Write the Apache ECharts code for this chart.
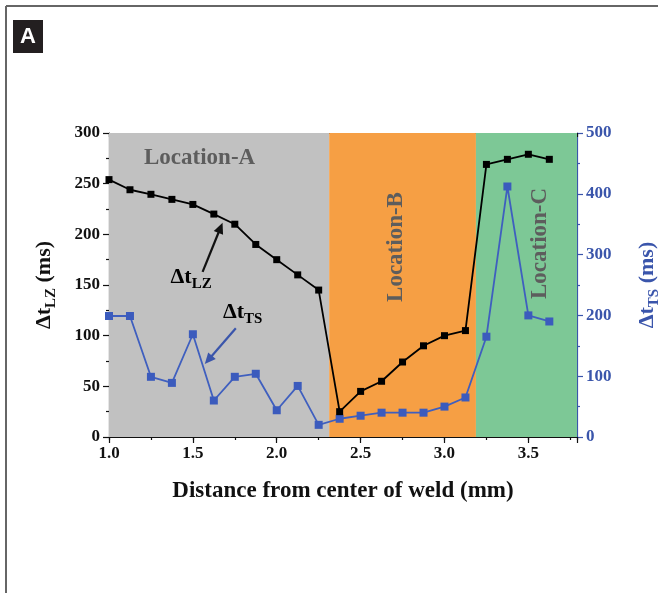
<!DOCTYPE html>
<html><head><meta charset="utf-8">
<script src="https://cdn.jsdelivr.net/npm/echarts@6/dist/echarts.min.js"></script>
<style>html,body{margin:0;padding:0;background:#fff;}#c{width:658px;height:593px;}</style>
</head><body><div id="c"></div>
<script>
// ---- data ----
const distance = [1.0,1.125,1.25,1.375,1.5,1.625,1.75,1.875,2.0,2.125,2.25,2.375,2.5,2.625,2.75,2.875,3.0,3.125,3.25,3.375,3.5,3.625];
const dtLZ = [254,244,239.5,234.5,229.5,220,210,190,175,160,145,25,45,55,74,90,100,105,269,274,279,274];
const dtTS = [199,199,99,89,169,60,99,104,44,84,20,30,35,40,40,40,50,65,165,412,200,190];
const regionBounds = [1.0, 2.3125, 3.1875, 3.79];
const regionNames = ['Location-A','Location-B','Location-C'];
const regionColors = ['#c1c1c1','#f69f44','#7dc896'];
const xTicks = [1.0,1.5,2.0,2.5,3.0,3.5];
const leftTicks = [0,50,100,150,200,250,300];
const rightTicks = [0,100,200,300,400,500];

const SERIF = '"Liberation Serif","Times New Roman",serif';
const BLUE = '#3a55ab';
const GRAYTXT = '#5d5d5d';

const chart = echarts.init(document.getElementById('c'), null, {renderer:'canvas'});

const subRich = (color) => ({
  m:{fontSize:22,fontWeight:'bold',fontFamily:SERIF,color:color,lineHeight:30},
  s:{fontSize:15,fontWeight:'bold',fontFamily:SERIF,color:color,lineHeight:14,verticalAlign:'bottom'},
  n:{fontSize:22,fontWeight:'bold',fontFamily:SERIF,color:color,lineHeight:30}
});

const xMin = xTicks[0], xMax = regionBounds[3];
const tickLabelStyle = {fontFamily:SERIF,fontWeight:'bold',fontSize:17};

const option = {
  animation:false,
  grid:{left:109,right:81,top:133,bottom:156,containLabel:false,outerBoundsMode:'none'},
  xAxis:[
    {type:'value',position:'bottom',min:xMin,max:xMax,interval:0.5,
     name:'Distance from center of weld (mm)',nameLocation:'middle',nameGap:43,
     nameTextStyle:{fontFamily:SERIF,fontWeight:'bold',fontSize:23,color:'#111'},
     axisLine:{show:true,onZero:false,lineStyle:{color:'#111',width:1.2}},
     axisTick:{show:true,inside:false,length:6,lineStyle:{color:'#111',width:1.2}},
     axisLabel:{show:true,margin:8,color:'#111',...tickLabelStyle,
       formatter:(v)=> xTicks.some(t=>Math.abs(t-v)<1e-6)? v.toFixed(1):''},
     splitLine:{show:false}},
    {type:'value',position:'bottom',min:xMin,max:xMax,interval:0.25,
     axisLine:{show:false,onZero:false},
     axisTick:{show:true,inside:false,length:3,lineStyle:{color:'#111',width:1.2}},
     axisLabel:{show:false},splitLine:{show:false}},
    {type:'value',position:'top',min:xMin,max:xMax,interval:0.25,
     axisLine:{show:true,onZero:false,lineStyle:{color:'#111',width:1.2}},
     axisTick:{show:true,inside:true,length:4,lineStyle:{color:'#111',width:1.2}},
     axisLabel:{show:false},splitLine:{show:false}}
  ],
  yAxis:[
    {type:'value',position:'left',min:leftTicks[0],max:leftTicks[leftTicks.length-1],interval:50,
     name:'{m|Δt}{s|LZ}{n| (ms)}',nameLocation:'middle',nameGap:50,nameRotate:90,
     nameTextStyle:{rich:subRich('#111')},
     axisLine:{show:true,onZero:false,lineStyle:{color:'#111',width:1.2}},
     axisTick:{show:true,inside:false,length:6,lineStyle:{color:'#111',width:1.2}},
     minorTick:{show:true,splitNumber:2,length:3,lineStyle:{color:'#111',width:1.2}},
     axisLabel:{color:'#111',margin:9,...tickLabelStyle},
     splitLine:{show:false}},
    {type:'value',position:'right',min:rightTicks[0],max:rightTicks[rightTicks.length-1],interval:100,
     name:'{m|Δt}{s|TS}{n| (ms)}',nameLocation:'middle',nameGap:55,nameRotate:90,
     nameTextStyle:{rich:subRich(BLUE)},
     axisLine:{show:true,onZero:false,lineStyle:{color:BLUE,width:1.2}},
     axisTick:{show:true,inside:false,length:6,lineStyle:{color:BLUE,width:1.2}},
     minorTick:{show:true,splitNumber:2,length:3,lineStyle:{color:BLUE,width:1.2}},
     axisLabel:{color:BLUE,margin:9,...tickLabelStyle},
     splitLine:{show:false}}
  ],
  series:[
    {type:'line',name:'regions',xAxisIndex:0,yAxisIndex:0,data:[],silent:true,
     markArea:{silent:true,
       data: regionColors.map((c,i)=>[{xAxis:regionBounds[i],itemStyle:{color:c,opacity:1}},{xAxis:regionBounds[i+1]}])}},
    {type:'line',name:'dtLZ',xAxisIndex:0,yAxisIndex:0,
     data: distance.map((d,i)=>[d,dtLZ[i]]),
     symbol:'rect',symbolSize:7,showSymbol:true,
     lineStyle:{color:'#000',width:1.8},itemStyle:{color:'#000'},z:5},
    {type:'line',name:'dtTS',xAxisIndex:0,yAxisIndex:1,
     data: distance.map((d,i)=>[d,dtTS[i]]),
     symbol:'rect',symbolSize:8,showSymbol:true,
     lineStyle:{color:'#3f5fbf',width:1.8},itemStyle:{color:'#3b5bbd'},z:4}
  ]
};
chart.setOption(option);

// annotation anchors in data coords (left y-axis)
const annLZText = [1.367,158], annLZArrow = [[1.558,163],[1.677,211.5]];
const annTSText = [1.679,123.5], annTSArrow = [[1.756,107.3],[1.571,72]];
const regionLabelPos = [[1.54,275],[2.714,187.5],[3.571,191]];

const px = (p)=>chart.convertToPixel({xAxisIndex:0,yAxisIndex:0},p);
function arrow(a,b,color){
  const A=px(a),B=px(b);
  const dx=B[0]-A[0],dy=B[1]-A[1],L=Math.hypot(dx,dy),ux=dx/L,uy=dy/L;
  const hl=11,hw=5;
  const base=[B[0]-ux*hl,B[1]-uy*hl];
  return [
    {type:'line',shape:{x1:A[0],y1:A[1],x2:base[0]+ux*2,y2:base[1]+uy*2},style:{stroke:color,lineWidth:2.2},z:20},
    {type:'polygon',shape:{points:[[B[0],B[1]],[base[0]-uy*hw,base[1]+ux*hw],[base[0]+uy*hw,base[1]-ux*hw]]},style:{fill:color},z:20}
  ];
}
const g = [];
// frame
g.push({type:'line',shape:{x1:6,y1:6,x2:6,y2:593},style:{stroke:'#666',lineWidth:2}});
g.push({type:'line',shape:{x1:6,y1:6,x2:658,y2:6},style:{stroke:'#666',lineWidth:2}});
// panel letter
g.push({type:'rect',shape:{x:13,y:20,width:30,height:33},style:{fill:'#231f20'}});
g.push({type:'text',x:28,y:37,style:{text:'A',fill:'#fff',font:'bold 22px "Liberation Sans",Arial,sans-serif',textAlign:'center',textVerticalAlign:'middle'}});
// region labels
regionNames.forEach((t,i)=>{
  const p=px(regionLabelPos[i]);
  g.push({type:'text',x:p[0],y:p[1],rotation:i===0?0:Math.PI/2,z:10,
    style:{text:t,fill:GRAYTXT,font:'bold 23px '+SERIF,textAlign:'center',textVerticalAlign:'middle'}});
});
// annotations
const pLZ=px(annLZText), pTS=px(annTSText);
g.push({type:'text',x:pLZ[0],y:pLZ[1],z:20,style:{text:'{m|Δt}{s|LZ}',rich:subRich('#111'),textAlign:'left',textVerticalAlign:'middle'}});
g.push({type:'text',x:pTS[0],y:pTS[1],z:20,style:{text:'{m|Δt}{s|TS}',rich:subRich(BLUE),textAlign:'left',textVerticalAlign:'middle'}});
g.push(...arrow(annLZArrow[0],annLZArrow[1],'#111'));
g.push(...arrow(annTSArrow[0],annTSArrow[1],BLUE));
chart.setOption({graphic:{elements:g}});
</script></body></html>
